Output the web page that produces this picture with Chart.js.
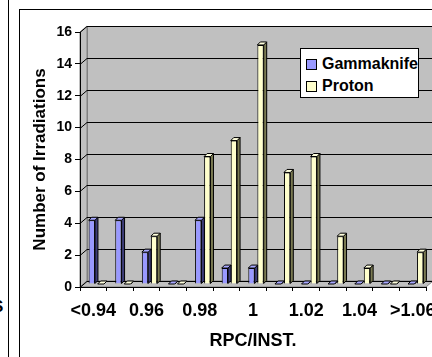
<!DOCTYPE html>
<html>
<head>
<meta charset="utf-8">
<script src="https://cdn.jsdelivr.net/npm/chart.js@4.4.4/dist/chart.umd.min.js"></script>
<style>
    body { margin: 0; background: #fff; width: 432px; height: 357px; overflow: hidden; position: relative; font-family: "Liberation Sans", Arial, sans-serif; }
    #wrap { position: absolute; left: 0; top: 0; width: 432px; height: 357px; }
    .edge-line { position: absolute; left: 8px; top: 0; width: 1px; height: 357px; background: #000; }
    .frame { position: absolute; left: 19px; top: 9px; width: 500px; height: 400px; border: 1px solid #000; box-sizing: border-box; }
    .cut-text { position: absolute; left: -8px; top: 297px; font-weight: bold; font-size: 17px; }
    #legend { position: absolute; left: 300px; top: 48px; width: 119px; height: 50px; box-sizing: border-box; border: 1px solid #000; background: #fff; padding-top: 4px; }
    #legend .item { display: flex; align-items: center; height: 22px; font-weight: bold; font-size: 16px; }
    #legend .box { width: 9px; height: 9px; border: 1px solid #000; margin: 0 5px 0 5px; }
</style>
</head>
<body>
<div class="edge-line"></div>
<div class="cut-text">S</div>
<div class="frame"></div>
<div id="wrap"><canvas id="chart" width="432" height="357"></canvas></div>
<div id="legend"></div>
<script>
// RPC/INST. ratio bins
const categories = ['<0.94', '0.95', '0.96', '0.97', '0.98', '0.99', '1', '1.01', '1.02', '1.03', '1.04', '1.05', '>1.06'];
const gammaknife = [4, 4, 2, 0, 4, 1, 1, 0, 0, 0, 0, 0, 0];
const proton = [0, 0, 3, 0, 8, 9, 15, 7, 8, 3, 1, 0, 2];
const yTicks = [0, 2, 4, 6, 8, 10, 12, 14, 16];

const FONT = '"Liberation Sans", Arial, sans-serif';
const WALL_DX = 7, WALL_DY = 6;   // depth of the back wall
const BAR_D = 3;                  // depth of each column

const colors = {
    gamma: { front: '#9999FF', side: '#3C3C78', top: '#A8A8FF' },
    proton: { front: '#FFFFCC', side: '#7A7A52', top: '#FFFFDD' }
};

// walls, floor and gridlines of the excel-ish 3d look
const wallsPlugin = {
    id: 'walls',
    beforeDraw(chart) {
        const { ctx, chartArea: a, scales: { y } } = chart;
        const L = a.left, R = a.right, T = a.top, B = a.bottom;
        ctx.save();
        ctx.fillStyle = '#C0C0C0';
        ctx.strokeStyle = '#808080';
        ctx.lineWidth = 1;
        // back wall
        ctx.fillRect(L + WALL_DX, T - WALL_DY, R - L, B - T);
        ctx.strokeRect(L + WALL_DX + 0.5, T - WALL_DY + 0.5, R - L, B - T);
        // side wall
        ctx.beginPath();
        ctx.moveTo(L, T); ctx.lineTo(L + WALL_DX, T - WALL_DY);
        ctx.lineTo(L + WALL_DX, B - WALL_DY); ctx.lineTo(L, B);
        ctx.closePath(); ctx.fill(); ctx.stroke();
        // floor
        ctx.beginPath();
        ctx.moveTo(L, B); ctx.lineTo(L + WALL_DX, B - WALL_DY);
        ctx.lineTo(R + WALL_DX, B - WALL_DY); ctx.lineTo(R, B);
        ctx.closePath(); ctx.fill(); ctx.stroke();
        // gridlines
        ctx.strokeStyle = '#000';
        yTicks.forEach(v => {
            const py = Math.round(y.getPixelForValue(v)) + 0.5;
            ctx.beginPath();
            ctx.moveTo(L, py);
            ctx.lineTo(L + WALL_DX, py - WALL_DY);
            ctx.lineTo(R + WALL_DX + 10, py - WALL_DY);
            ctx.stroke();
        });
        ctx.restore();
    },
    beforeDatasetsDraw(chart) {
        chart.ctx.save();
        chart.ctx.translate(3, -3);
    },
    afterDatasetDraw(chart, args) {
        const ctx = chart.ctx;
        const c = args.index === 0 ? colors.gamma : colors.proton;
        ctx.save();
        ctx.lineWidth = 1;
        ctx.strokeStyle = '#000';
        args.meta.data.forEach(bar => {
            const { x, y, base, width } = bar.getProps(['x', 'y', 'base', 'width'], true);
            const l = x - width / 2, r = x + width / 2;
            // side
            ctx.fillStyle = c.side;
            ctx.beginPath();
            ctx.moveTo(r, y); ctx.lineTo(r + BAR_D, y - BAR_D);
            ctx.lineTo(r + BAR_D, base - BAR_D); ctx.lineTo(r, base);
            ctx.closePath(); ctx.fill(); ctx.stroke();
            // top
            ctx.fillStyle = c.top;
            ctx.beginPath();
            ctx.moveTo(l, y); ctx.lineTo(l + BAR_D, y - BAR_D);
            ctx.lineTo(r + BAR_D, y - BAR_D); ctx.lineTo(r, y);
            ctx.closePath(); ctx.fill(); ctx.stroke();
        });
        ctx.restore();
    },
    afterDatasetsDraw(chart) {
        chart.ctx.restore();
    }
};

const ctx = document.getElementById('chart').getContext('2d');
const chart = new Chart(ctx, {
    type: 'bar',
    data: {
        labels: categories,
        datasets: [{
            label: 'Gammaknife',
            data: gammaknife,
            backgroundColor: colors.gamma.front,
            borderColor: '#000',
            borderWidth: 1,
            categoryPercentage: 0.68,
            barPercentage: 0.7
        }, {
            label: 'Proton',
            data: proton,
            backgroundColor: colors.proton.front,
            borderColor: '#000',
            borderWidth: 1,
            categoryPercentage: 0.68,
            barPercentage: 0.7
        }]
    },
    options: {
        responsive: false,
        animation: false,
        layout: { padding: { left: 0, right: 6, top: 32, bottom: 0 } },
        plugins: { legend: { display: false }, tooltip: { enabled: false } },
        scales: {
            x: {
                offset: true,
                grid: { offset: true, drawOnChartArea: false, drawTicks: true, tickLength: 4, color: '#000' },
                border: { display: true, color: '#000', width: 1 },
                ticks: {
                    autoSkip: false,
                    maxRotation: 0,
                    padding: 9,
                    color: '#000',
                    font: { family: FONT, size: 18, weight: 'bold' },
                    callback: (val, i) => (i % 2 === 0 ? categories[i] : '')
                },
                title: {
                    display: true,
                    text: 'RPC/INST.',
                    color: '#000',
                    font: { family: FONT, size: 18, weight: 'bold' },
                    padding: { top: 0, bottom: 5 }
                },
                afterFit(scale) {
                    scale.height = 70;
                    scale.paddingLeft = 0;
                    scale.paddingRight = 0;
                }
            },
            y: {
                min: 0,
                max: 16,
                ticks: {
                    stepSize: 2,
                    padding: 3,
                    color: '#000',
                    font: { family: FONT, size: 14, weight: 'bold' }
                },
                grid: { drawOnChartArea: false, drawTicks: true, tickLength: 5, color: '#000' },
                border: { display: true, color: '#000', width: 1 },
                title: {
                    display: true,
                    text: 'Number of Irradiations',
                    color: '#000',
                    font: { family: FONT, size: 17, weight: 'bold' },
                    padding: { top: 30, bottom: 0 }
                },
                afterFit(scale) {
                    scale.width = 80;
                    scale.paddingTop = 0;
                    scale.paddingBottom = 0;
                }
            }
        }
    },
    plugins: [wallsPlugin]
});

// legend built from the datasets
const legend = document.getElementById('legend');
chart.data.datasets.forEach(ds => {
    const item = document.createElement('div');
    item.className = 'item';
    item.innerHTML = '<span class="box" style="background:' + ds.backgroundColor + '"></span>' + ds.label;
    legend.appendChild(item);
});
</script>
</body>
</html>
